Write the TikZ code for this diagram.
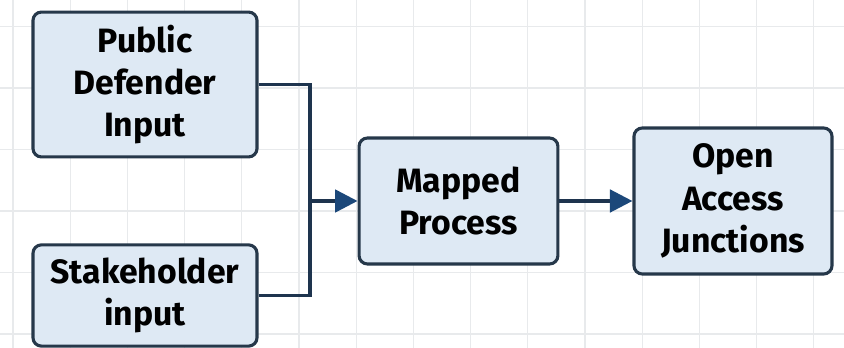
\documentclass[tikz,border=0pt]{standalone}
\usepackage{fontspec}
\setmainfont{Fira Sans}
\usepackage{tikz}
\usetikzlibrary{arrows.meta, positioning, calc}
\definecolor{boxblue}{RGB}{222,233,244}
\definecolor{boxline}{RGB}{38,56,74}
\definecolor{linknavy}{RGB}{30,52,78}
\definecolor{tipblue}{RGB}{28,72,122}
\definecolor{gridgray}{RGB}{232,234,236}

\begin{document}
\begin{tikzpicture}[x=0.025cm, y=0.025cm,
  box/.style={draw=boxline, line width=2.2pt, rounded corners=6pt, fill=boxblue,
    align=center, font=\bfseries\fontsize{24}{30}\selectfont, inner sep=0pt},
  link/.style={draw=linknavy, line width=2.4pt},
  flow/.style={link, -{Triangle[length=16pt, width=16pt, fill=tipblue, color=tipblue]}}]
\useasboundingbox (0,0) rectangle (844,348);
\fill[white] (0,0) rectangle (844,348);

% Background grid
\foreach \gx in {13,70.2,...,844}
  \draw[gridgray, line width=0.8pt] (\gx,0) -- (\gx,348);
\foreach \gy in {14,75.5,...,348}
  \draw[gridgray, line width=0.8pt] (0,\gy) -- (844,\gy);

% Inputs
\node[box, minimum width=5.6cm, minimum height=3.62cm] (defender) at (145,263.5) {Public\\Defender\\Input};
\node[box, minimum width=5.6cm, minimum height=2.53cm] (stakeholder) at (145,52.5) {Stakeholder\\input};

% Process and result
\node[box, minimum width=4.97cm, minimum height=3.15cm] (mapped) at (458.5,147) {Mapped\\Process};
\node[box, minimum width=4.95cm, minimum height=3.65cm] (junctions) at (733,147) {Open\\Access\\Junctions};

% Connectors
\coordinate (merge) at (310,147);
\draw[link] (defender.east) -| (merge);
\draw[link] (stakeholder.east) -| (merge);
\draw[flow] (merge) -- (mapped.west);
\draw[flow] (mapped.east) -- (junctions.west);
\end{tikzpicture}
\end{document}
